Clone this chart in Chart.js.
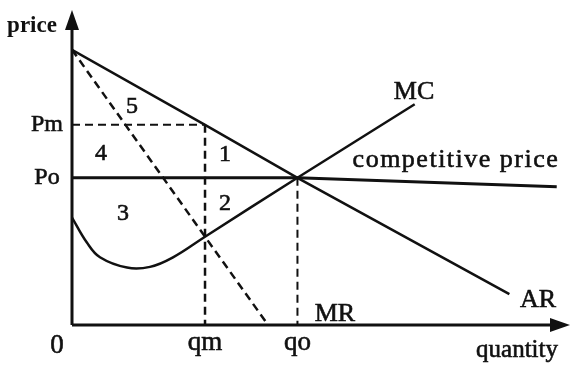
<!DOCTYPE html>
<html>
<head>
<meta charset="utf-8">
<script src="https://cdn.jsdelivr.net/npm/chart.js@4/dist/chart.umd.min.js"></script>
<style>
  html, body { margin: 0; padding: 0; background: #fff; }
  canvas { display: block; }
</style>
</head>
<body>
<canvas id="chart" width="573" height="374"></canvas>
<script>
// curves (quantity, price), qo = 100, Po = 100
const arCurve = [[0, 187], [59, 136], [100, 100], [194, 21]];
const mrCurve = [[0, 187], [59, 60], [87, 0]];
const mcCurve = [[0, 73], [6.6, 56], [12.4, 46], [24.4, 39], [34.6, 39.5], [44.8, 46], [59, 60], [100, 100], [152, 150]];
const poLine = [[0, 100], [100, 100], [215, 94]];
const pmDash = [[0, 136], [59, 136]];
const qmDash = [[59, 136], [59, 0]];
const qoDash = [[100, 100], [100, 0]];

const xTickValues = [0, 59, 100];
const xTickLabels = ["0", "qm", "qo"];
const yTickValues = [136, 100];
const yTickLabels = ["Pm", "Po"];

const curveLabels = ["MC", "competitive price", "AR", "MR"];
const curveLabelAt = [[151.7, 158.3], [170.3, 112], [206.7, 17], [116.6, 7.5]];
const areaLabels = ["5", "4", "1", "2", "3"];
const areaLabelAt = [[26.6, 148.1], [12.9, 116.2], [67.9, 115.5], [67.9, 82.2], [22.6, 75.4]];

const X_MAX = 220;
const Y_MAX = 214;

function pts(arr) {
    return arr.map((p) => ({ x: p[0], y: p[1] }));
}

function lineSet(arr, width, dashed, smooth) {
    return {
        data: pts(arr),
        showLine: true,
        borderColor: "#111",
        borderWidth: width,
        borderDash: dashed ? [8, 5] : [],
        pointRadius: 0,
        tension: smooth ? 0.4 : 0,
        fill: false,
    };
}

const SERIF = "'Liberation Serif', 'DejaVu Serif', serif";

// scanned text looks a bit heavy, so fill + thin stroke
function heavyText(ctx, t, x, y) {
    ctx.fillText(t, x, y);
    ctx.strokeText(t, x, y);
}

const diagramText = {
    id: "diagramText",
    afterDraw(chart) {
        const ctx = chart.ctx;
        const xs = chart.scales.x;
        const ys = chart.scales.y;
        const x0 = xs.getPixelForValue(0);
        const y0 = ys.getPixelForValue(0);
        const xEnd = xs.getPixelForValue(X_MAX) + 2;
        const yEnd = ys.getPixelForValue(Y_MAX);

        ctx.save();
        // axes with arrows
        ctx.strokeStyle = "#111";
        ctx.fillStyle = "#111";
        ctx.lineWidth = 3;
        ctx.beginPath();
        ctx.moveTo(x0, y0);
        ctx.lineTo(x0, yEnd + 12);
        ctx.moveTo(x0, y0);
        ctx.lineTo(xEnd - 12, y0);
        ctx.stroke();
        ctx.beginPath();
        ctx.moveTo(x0, yEnd);
        ctx.lineTo(x0 - 7, yEnd + 20);
        ctx.lineTo(x0 + 7, yEnd + 20);
        ctx.closePath();
        ctx.fill();
        ctx.beginPath();
        ctx.moveTo(xEnd, y0);
        ctx.lineTo(xEnd - 20, y0 - 7);
        ctx.lineTo(xEnd - 20, y0 + 7);
        ctx.closePath();
        ctx.fill();

        ctx.textBaseline = "middle";
        ctx.textAlign = "center";
        ctx.lineWidth = 0.6;

        // y ticks
        ctx.font = "24px " + SERIF;
        yTickValues.forEach((v, i) => {
            heavyText(ctx, yTickLabels[i], x0 - 25, ys.getPixelForValue(v));
        });
        // x ticks
        ctx.font = "27px " + SERIF;
        xTickValues.forEach((v, i) => {
            let px = xs.getPixelForValue(v);
            if (v === 0) px -= 15;
            heavyText(ctx, xTickLabels[i], px, y0 + (v === 0 ? 21 : 18));
        });

        // axis titles
        ctx.font = "25px " + SERIF;
        heavyText(ctx, "quantity", 517, y0 + 25);
        ctx.font = "bold 23px " + SERIF;
        ctx.fillText("price", 32, 26);

        ctx.font = "26px " + SERIF;
        curveLabels.forEach((t, i) => {
            const p = curveLabelAt[i];
            ctx.letterSpacing = t.length > 4 ? "1.5px" : "0px";
            heavyText(ctx, t, xs.getPixelForValue(p[0]), ys.getPixelForValue(p[1]));
        });
        ctx.letterSpacing = "0px";
        ctx.font = "24px " + SERIF;
        areaLabels.forEach((t, i) => {
            const p = areaLabelAt[i];
            heavyText(ctx, t, xs.getPixelForValue(p[0]), ys.getPixelForValue(p[1]));
        });
        ctx.restore();
    },
};

new Chart(document.getElementById("chart"), {
    type: "scatter",
    data: {
        datasets: [
            lineSet(arCurve, 2.5, false, false),
            lineSet(mrCurve, 2.5, true, false),
            lineSet(mcCurve, 2.5, false, true),
            lineSet(poLine, 3, false, false),
            lineSet(pmDash, 2, true, false),
            lineSet(qmDash, 2.5, true, false),
            lineSet(qoDash, 2, true, false),
        ],
    },
    options: {
        responsive: false,
        animation: false,
        layout: { padding: { left: 72, right: 5, top: 10, bottom: 49 } },
        scales: {
            x: { type: "linear", min: 0, max: X_MAX, display: false },
            y: { type: "linear", min: 0, max: Y_MAX, display: false },
        },
        plugins: {
            legend: { display: false },
            tooltip: { enabled: false },
        },
    },
    plugins: [
        {
            id: "whiteBg",
            beforeDraw(chart) {
                const ctx = chart.ctx;
                ctx.save();
                ctx.fillStyle = "#fff";
                ctx.fillRect(0, 0, chart.width, chart.height);
                ctx.restore();
            },
        },
        diagramText,
    ],
});
</script>
</body>
</html>
